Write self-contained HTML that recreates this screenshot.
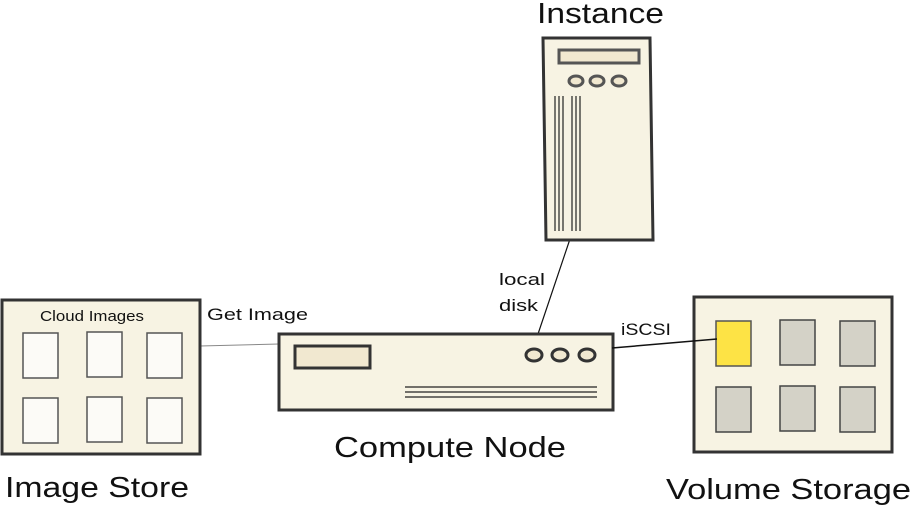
<!DOCTYPE html>
<html><head><meta charset="utf-8"><style>html,body{margin:0;padding:0;background:#fff}svg{display:block}</style></head><body>
<svg width="911" height="505" viewBox="0 0 911 505" xmlns="http://www.w3.org/2000/svg" font-family="Liberation Sans, DejaVu Sans, sans-serif" fill="#111">
<!-- connectors -->
<line x1="200" y1="346" x2="279" y2="344" stroke="#888" stroke-width="1"/>
<line x1="571" y1="236" x2="538" y2="334" stroke="#111" stroke-width="1.2"/>
<!-- instance -->
<polygon points="543,38 650,38 653,240 546,240" fill="#f7f3e3" stroke="#333" stroke-width="3"/>
<rect x="559" y="50" width="80" height="13" fill="#f1e8d0" stroke="#555" stroke-width="3"/>
<ellipse cx="576" cy="81" rx="7" ry="5" fill="#f1e8d0" stroke="#555" stroke-width="3"/>
<ellipse cx="597" cy="81" rx="7" ry="5" fill="#f1e8d0" stroke="#555" stroke-width="3"/>
<ellipse cx="619" cy="81" rx="7" ry="5" fill="#f1e8d0" stroke="#555" stroke-width="3"/>
<g stroke="#222" stroke-width="1.2">
<line x1="555" y1="96" x2="555" y2="231"/><line x1="559" y1="96" x2="559" y2="231"/><line x1="563" y1="96" x2="563" y2="231"/>
<line x1="572" y1="96" x2="572" y2="231"/><line x1="576" y1="96" x2="576" y2="231"/><line x1="580" y1="96" x2="580" y2="231"/>
</g>
<!-- compute node -->
<rect x="279" y="334" width="334" height="76" fill="#f7f3e3" stroke="#333" stroke-width="3"/>
<rect x="295" y="346" width="75" height="22" fill="#f1e8d0" stroke="#333" stroke-width="3"/>
<ellipse cx="534" cy="355" rx="8" ry="6" fill="#f1e8d0" stroke="#333" stroke-width="3"/>
<ellipse cx="560" cy="355" rx="8" ry="6" fill="#f1e8d0" stroke="#333" stroke-width="3"/>
<ellipse cx="587" cy="355" rx="8" ry="6" fill="#f1e8d0" stroke="#333" stroke-width="3"/>
<g stroke="#222" stroke-width="1.2"><line x1="405" y1="387" x2="597" y2="387"/><line x1="405" y1="392" x2="597" y2="392"/><line x1="405" y1="397" x2="597" y2="397"/></g>
<!-- image store -->
<rect x="2" y="300" width="198" height="154" fill="#f7f3e3" stroke="#333" stroke-width="3"/>
<g fill="#fcfbf7" stroke="#555" stroke-width="1.5">
<rect x="23" y="333" width="35" height="45"/><rect x="87" y="332" width="35" height="45"/><rect x="147" y="333" width="35" height="45"/>
<rect x="23" y="398" width="35" height="45"/><rect x="87" y="397" width="35" height="45"/><rect x="147" y="398" width="35" height="45"/>
</g>
<!-- volume storage -->
<rect x="694" y="297" width="198" height="155" fill="#f7f3e3" stroke="#333" stroke-width="3"/>
<rect x="716" y="321" width="35" height="45" fill="#fde345" stroke="#555" stroke-width="1.5"/>
<g fill="#d4d2c7" stroke="#444" stroke-width="1.5">
<rect x="780" y="320" width="35" height="45"/><rect x="840" y="321" width="35" height="45"/>
<rect x="716" y="387" width="35" height="45"/><rect x="780" y="386" width="35" height="45"/><rect x="840" y="387" width="35" height="45"/>
</g>
<line x1="612" y1="348" x2="717" y2="339" stroke="#111" stroke-width="1.5"/>
<!-- labels -->
<text x="537" y="23" font-size="29" textLength="127" lengthAdjust="spacingAndGlyphs">Instance</text>
<text x="334" y="457" font-size="29" textLength="232" lengthAdjust="spacingAndGlyphs">Compute Node</text>
<text x="5" y="497" font-size="29" textLength="184" lengthAdjust="spacingAndGlyphs">Image Store</text>
<text x="666" y="499" font-size="29" textLength="245" lengthAdjust="spacingAndGlyphs">Volume Storage</text>
<text x="40" y="321" font-size="15" textLength="104" lengthAdjust="spacingAndGlyphs">Cloud Images</text>
<text x="207" y="320" font-size="17" textLength="101" lengthAdjust="spacingAndGlyphs">Get Image</text>
<text x="499" y="285" font-size="17" textLength="46" lengthAdjust="spacingAndGlyphs">local</text>
<text x="499" y="311" font-size="17" textLength="39" lengthAdjust="spacingAndGlyphs">disk</text>
<text x="621" y="335" font-size="17" textLength="50" lengthAdjust="spacingAndGlyphs">iSCSI</text>
</svg>
</body></html>
